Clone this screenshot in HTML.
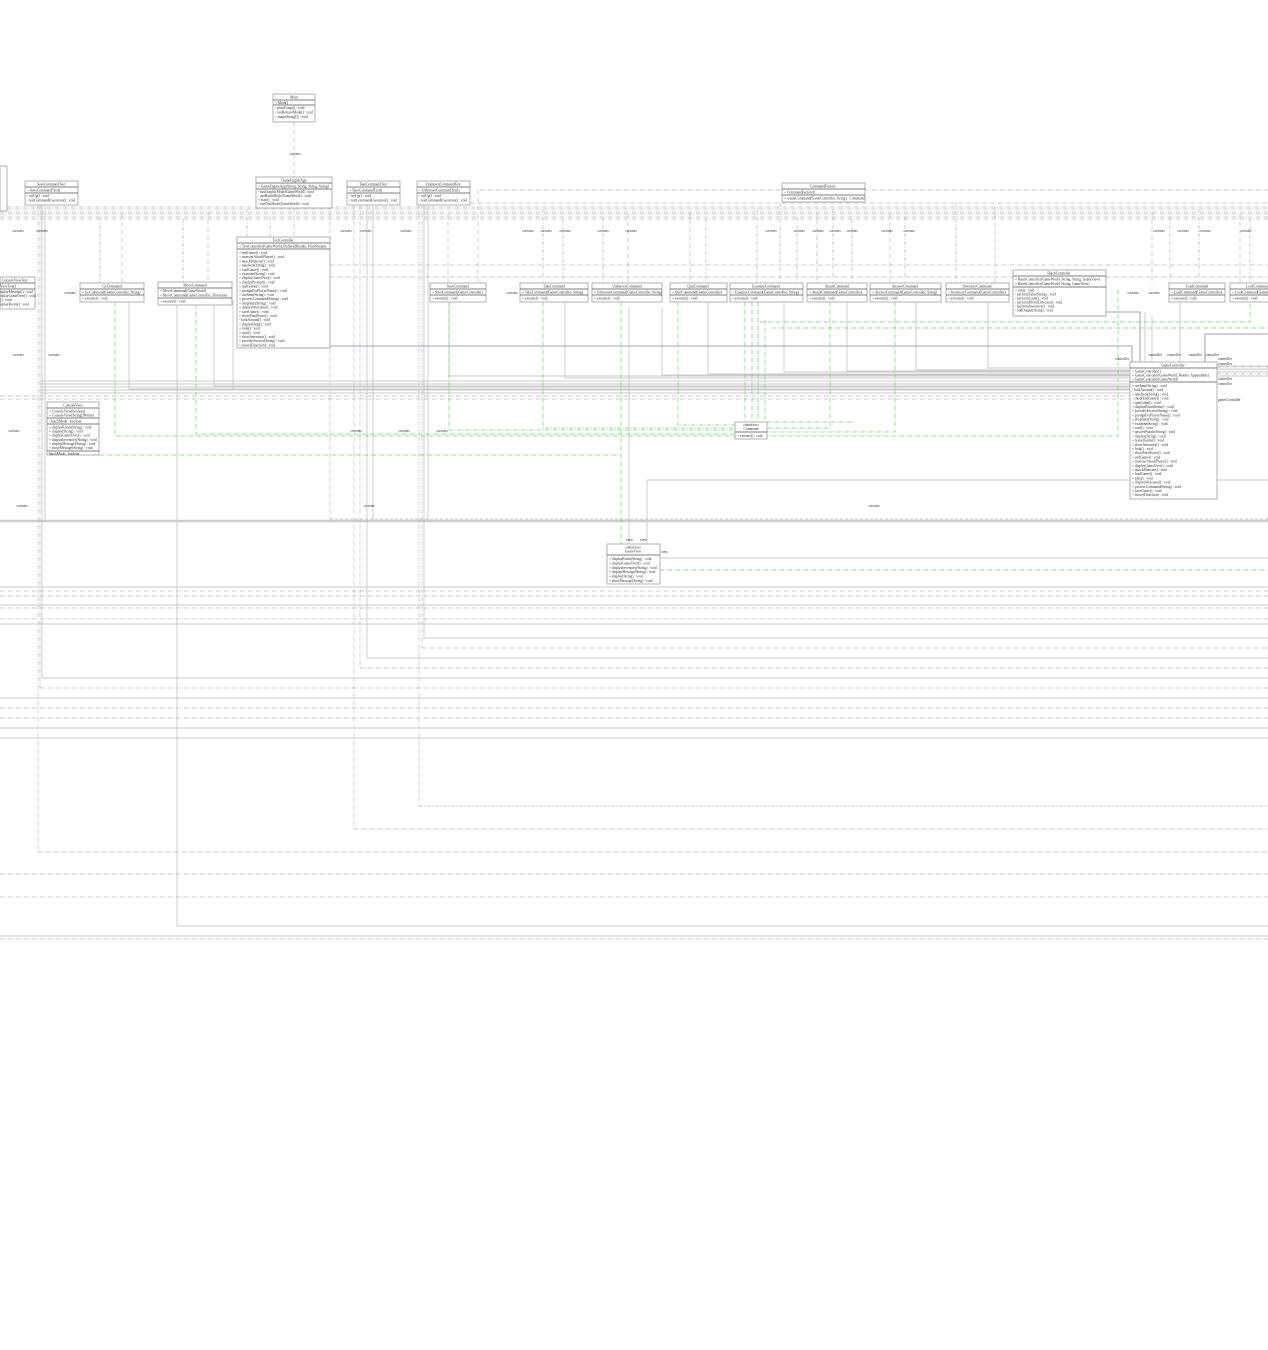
<!DOCTYPE html>
<html><head><meta charset="utf-8"><style>
html,body{margin:0;padding:0;background:#fff;}
svg{display:block;}
text{font-family:"Liberation Serif",serif;font-size:3.6px;fill:#333;}
.t{text-anchor:middle;}
.b{fill:#fff;stroke:#aaa;stroke-width:0.9;}
.s{stroke:#bbb;stroke-width:0.7;fill:none;}
.d{stroke:#bbb;stroke-width:0.7;fill:none;stroke-dasharray:4 1.5 1 1.5;}
.g{stroke:#7c7;stroke-width:0.7;fill:none;stroke-dasharray:4 1.5 1 1.5;}
.u{stroke:#88a;stroke-width:0.8;fill:none;}
.k{stroke:#555;stroke-width:0.7;fill:none;}
</style></head><body>
<svg width="1268" height="1350" viewBox="0 0 1268 1350" xmlns="http://www.w3.org/2000/svg">
<!-- long horizontal connectors upper -->
<g>
<path class="d" d="M7 207H1268M7 209H1268M0 212H1268M0 214H1268M0 217H1268M0 219H1268"/>
<path class="d" d="M330 265H1268M330 277H1268"/>
<path class="d" d="M470 203H1268M480 190H1268"/>
<path class="s" d="M40 381H1130M40 384H1130M40 387H1130M40 390H1130M40 393H1130"/>
<path class="d" d="M0 396H1130M0 399H1130"/>
<path class="s" d="M1217 366H1268M1217 369H1268M1217 372H1268M1217 376H1268"/>
<path class="d" d="M1217 367H1268M1217 374H1268"/>
<!-- band -->
<path stroke="#ccc" stroke-width="2.5" d="M0 521H1268"/>
<path stroke="#bbb" stroke-width="0.8" stroke-dasharray="3 2" d="M330 519H1268"/>
<!-- lower lines -->
<path class="s" d="M0 587H1268M0 605H1268M0 624H1268M424 638H1268M367 658H1268M42 678H1268M0 698H1268M0 728H1268M0 738H1268M177 926H1268M0 936H1268"/>
<path class="d" d="M0 591H1268M0 596H1268M0 608H1268M0 619H1268M422 648H1268M360 668H1268M40 688H1268M0 708H1268M0 718H1268M419 806H1268M354 829H1268M38 852H1268M0 874H1268M0 897H1268M0 939H1268"/>
<!-- verticals -->
<path class="d" d="M38 205V852M40 205V688M354 205V829M360 205V668M419 205V806M422 205V648M330 205V522"/>
<path class="s" d="M42 205V678M45 205V522M177 304V926M367 205V658M373 205V520M424 205V638M428 205V520"/>
<!-- Main -> GameEngineApp -->
<path class="d" d="M294 122V177"/><text x="295" y="155" class="t">«create»</text>
<path class="d" d="M294 208V237"/>
<!-- drops to commands -->
<path class="d" d="M100 217V283M122 214V283M183 219V282M208 212V282M448 214V283M478 190V283M543 209V283M563 219V283M603 217V283M628 214V283M690 212V283M706 219V283M757 209V283M780 203V283M797 217V283M817 212V283M833 209V283M852 219V283M890 214V283M905 217V283M956 203V283M995 207V283M1152 212V283M1170 217V283M1199 209V283M1240 214V283M1250 219V283"/>
<path class="d" d="M247 209V237M270 217V237"/>
<!-- labels create -->
<g>
<text x="12" y="232">«create»</text><text x="36" y="232">«create»</text><text x="340" y="232">«create»</text><text x="360" y="232">«create»</text><text x="400" y="232">«create»</text>
<text x="522" y="232">«create»</text><text x="540" y="232">«create»</text><text x="559" y="232">«create»</text><text x="597" y="232">«create»</text><text x="625" y="232">«create»</text><text x="765" y="232">«create»</text><text x="793" y="232">«create»</text><text x="812" y="232">«create»</text><text x="829" y="232">«create»</text><text x="846" y="232">«create»</text><text x="881" y="232">«create»</text><text x="903" y="232">«create»</text><text x="1153" y="232">«create»</text><text x="1177" y="232">«create»</text><text x="1199" y="232">«create»</text><text x="1240" y="232">«create»</text>
<text x="64" y="294">«create»</text><text x="506" y="294">«create»</text><text x="12" y="356">«create»</text><text x="48" y="356">«create»</text>
<text x="8" y="432">«create»</text><text x="350" y="432">«create»</text><text x="398" y="432">«create»</text><text x="436" y="432">«create»</text>
<text x="16" y="507">«create»</text><text x="363" y="507">«create»</text><text x="868" y="507">«create»</text>
<text x="1127" y="294">«create»</text><text x="1148" y="294">«create»</text>
</g>
<!-- solid lines commands -> GameController -->
<path class="s" d="M129 302V389H1130M214 304V386H1130M449 302V376H1130M565 302V378H1130M662 308V375H1130M708 302V374H1130M784 302V372H1130M847 302V371H1130M916 302V370H1130M988 302V368H1130M1145 312V362M1180 302V362M1152 316V362"/>
<path class="s" d="M233 300V390"/>
<!-- blue -->
<path class="u" d="M330 346H1132V362M1106 312H1140V362M1205 334H1268M1205 334V362"/>
<!-- green to Command -->
<path class="g" d="M115 302V436H735M196 304V434H735M449 302V430H735M543 302V428H735M678 302V425H735M745 302V422M752 302V422M758 302V422M765 320V422H855M830 302V428H767M895 302V432H767M1118 290V436H767M760 322H1250V290M772 328H1268"/>
<path class="g" d="M621 302V544M100 455H620"/>
<path class="g" d="M660 570H1268"/>
<path class="s" d="M647 480H1130M1217 480H1268M660 558H1268M647 480V544M629 308V544"/>
</g>
<!-- boxes -->
<g>
<rect class="b" x="273" y="94" width="42" height="28"/><text x="294" y="98.5" class="t">Main</text><path class="k" d="M273 100H315M273 105H315"/><text x="275" y="104">+ Main()</text><text x="275" y="109">- printUsage() : void</text><text x="275" y="113.5">- runRestoreMode() : void</text><text x="275" y="118">+ main(String[]) : void</text>

<rect class="b" x="256" y="177" width="76" height="31"/><text x="294" y="181.5" class="t">GameEngineApp</text><path class="k" d="M256 183H332M256 189H332"/><text x="258" y="187.5">+ GameEngineApp(String, String, String, String)</text><text x="258" y="193">- runGraphicMode(GameWorld) : void</text><text x="258" y="197">- runBatchMode(GameWorld) : void</text><text x="258" y="201">+ start() : void</text><text x="258" y="205">- runTextMode(GameWorld) : void</text>

<rect class="b" x="25" y="181" width="53" height="24"/><text x="51" y="185.5" class="t">SaveCommandTest</text><path class="k" d="M25 187H78M25 193H78"/><text x="27" y="191.5">+ SaveCommandTest()</text><text x="27" y="197">- setUp() : void</text><text x="27" y="201.5">- testCommandExecution() : void</text>
<rect class="b" x="347" y="181" width="53" height="24"/><text x="373" y="185.5" class="t">TakeCommandTest</text><path class="k" d="M347 187H400M347 193H400"/><text x="349" y="191.5">+ TakeCommandTest()</text><text x="349" y="197">- setUp() : void</text><text x="349" y="201.5">- testCommandExecution() : void</text>
<rect class="b" x="417" y="181" width="53" height="24"/><text x="443" y="185.5" class="t">UnknownCommandTest</text><path class="k" d="M417 187H470M417 193H470"/><text x="419" y="191.5">+ UnknownCommandTest()</text><text x="419" y="197">- setUp() : void</text><text x="419" y="201.5">- testCommandExecution() : void</text>

<rect class="b" x="782" y="183" width="83" height="19"/><text x="823" y="187.5" class="t">CommandFactory</text><path class="k" d="M782 189H865M782 195H865"/><text x="784" y="193.5">+ CommandFactory()</text><text x="784" y="199.5">+ createCommand(GameController, String) : Command</text>

<rect class="b" x="0" y="166" width="7" height="45"/>

<rect class="b" x="237" y="237" width="93" height="111"/><text x="283" y="241.5" class="t">TextController</text><path class="k" d="M237 243H330M237 249H330"/><text x="239" y="247.5">+ TextController(GameWorld, BufferedReader, PrintStream)</text>
<text x="239" y="254">+ endGame() : void</text><text x="239" y="258.2">+ monsterAttackPlayer() : void</text><text x="239" y="262.4">+ attackMonster() : void</text><text x="239" y="266.6">+ takeItem(String) : void</text><text x="239" y="270.8">+ loadGame() : void</text><text x="239" y="275">+ examine(String) : void</text><text x="239" y="279.2">+ displayGameOver() : void</text><text x="239" y="283.4">+ displayPrompt() : void</text><text x="239" y="287.6">+ quitGame() : void</text><text x="239" y="291.8">+ promptForPlayerName() : void</text><text x="239" y="296">+ useItem(String) : void</text><text x="239" y="300.2">+ processCommand(String) : void</text><text x="239" y="304.4">+ dropItem(String) : void</text><text x="239" y="308.6">+ displayWelcome() : void</text><text x="239" y="312.8">+ saveGame() : void</text><text x="239" y="317">+ showFinalScore() : void</text><text x="239" y="321.2">- lookAround() : void</text><text x="239" y="325.4">+ displayHelp() : void</text><text x="239" y="329.6">+ look() : void</text><text x="239" y="333.8">+ start() : void</text><text x="239" y="338">+ showInventory() : void</text><text x="239" y="342.2">+ provideAnswer(String) : void</text><text x="239" y="346.4">+ move(Direction) : void</text>

<rect class="b" x="0" y="277" width="35" height="32"/><text x="2" y="281.5">ConsoleViewTest</text><path class="k" d="M0 283H35M0 289H35"/><text x="0" y="287.5">ViewTest()</text><text x="0" y="293">isplayMessage() : void</text><text x="0" y="297">isplayGameOver() : void</text><text x="0" y="301">() : void</text><text x="0" y="305.5">isplayRoom() : void</text>

<rect class="b" x="80" y="283" width="64" height="19"/><text x="112" y="287.5" class="t">GoCommand</text><path class="k" d="M80 289H144M80 295H144"/><text x="82" y="293.5">+ GoCommand(GameController, String)</text><text x="82" y="299.5">+ execute() : void</text>
<rect class="b" x="158" y="282" width="74" height="23"/><text x="195" y="286.5" class="t">MoveCommand</text><path class="k" d="M158 288H232M158 298H232"/><text x="160" y="292">+ MoveCommand(GameWorld)</text><text x="160" y="296.3">+ MoveCommand(GameController, Direction)</text><text x="160" y="302.5">+ execute() : void</text>
<rect class="b" x="430" y="283" width="56" height="19"/><text x="458" y="287.5" class="t">SaveCommand</text><path class="k" d="M430 289H486M430 295H486"/><text x="432" y="293.5">+ SaveCommand(GameController)</text><text x="432" y="299.5">+ execute() : void</text>
<rect class="b" x="520" y="283" width="68" height="19"/><text x="554" y="287.5" class="t">TakeCommand</text><path class="k" d="M520 289H588M520 295H588"/><text x="522" y="293.5">+ TakeCommand(GameController, String)</text><text x="522" y="299.5">+ execute() : void</text>
<rect class="b" x="592" y="283" width="70" height="19"/><text x="627" y="287.5" class="t">UnknownCommand</text><path class="k" d="M592 289H662M592 295H662"/><text x="594" y="293.5">+ UnknownCommand(GameController, String)</text><text x="594" y="299.5">+ execute() : void</text>
<rect class="b" x="670" y="283" width="57" height="19"/><text x="698" y="287.5" class="t">QuitCommand</text><path class="k" d="M670 289H727M670 295H727"/><text x="672" y="293.5">+ QuitCommand(GameController)</text><text x="672" y="299.5">+ execute() : void</text>
<rect class="b" x="730" y="283" width="73" height="19"/><text x="766" y="287.5" class="t">ExamineCommand</text><path class="k" d="M730 289H803M730 295H803"/><text x="732" y="293.5">+ ExamineCommand(GameController, String)</text><text x="732" y="299.5">+ execute() : void</text>
<rect class="b" x="807" y="283" width="60" height="19"/><text x="837" y="287.5" class="t">AttackCommand</text><path class="k" d="M807 289H867M807 295H867"/><text x="809" y="293.5">+ AttackCommand(GameController)</text><text x="809" y="299.5">+ execute() : void</text>
<rect class="b" x="870" y="283" width="71" height="19"/><text x="905" y="287.5" class="t">AnswerCommand</text><path class="k" d="M870 289H941M870 295H941"/><text x="872" y="293.5">+ AnswerCommand(GameController, String)</text><text x="872" y="299.5">+ execute() : void</text>
<rect class="b" x="946" y="283" width="63" height="19"/><text x="977" y="287.5" class="t">InventoryCommand</text><path class="k" d="M946 289H1009M946 295H1009"/><text x="948" y="293.5">+ InventoryCommand(GameController)</text><text x="948" y="299.5">+ execute() : void</text>
<rect class="b" x="1013" y="270" width="93" height="46"/><text x="1059" y="274.5" class="t">BatchController</text><path class="k" d="M1013 276H1106M1013 287H1106"/><text x="1015" y="280.5">+ BatchController(GameWorld, String, String, GameView)</text><text x="1015" y="285">+ BatchController(GameWorld, String, GameView)</text><text x="1015" y="291.5">+ run() : void</text><text x="1015" y="295.5">- performTake(String) : void</text><text x="1015" y="299.5">- performLook() : void</text><text x="1015" y="303.5">- performMove(Direction) : void</text><text x="1015" y="307.5">- performInventory() : void</text><text x="1015" y="311.5">- addOutput(String) : void</text>
<rect class="b" x="1169" y="283" width="56" height="19"/><text x="1197" y="287.5" class="t">LoadCommand</text><path class="k" d="M1169 289H1225M1169 295H1225"/><text x="1171" y="293.5">+ LoadCommand(GameController)</text><text x="1171" y="299.5">+ execute() : void</text>
<rect class="b" x="1230" y="283" width="45" height="19"/><text x="1246" y="287.5">LookCommand</text><path class="k" d="M1230 289H1275M1230 295H1275"/><text x="1232" y="293.5">+ LookCommand(GameController</text><text x="1232" y="299.5">+ execute() : void</text>

<rect class="b" x="47" y="402" width="52" height="53"/><text x="73" y="406.5" class="t">ConsoleView</text><path class="k" d="M47 408H99M47 418H99M47 424H99M47 451H99"/><text x="49" y="412.5">+ ConsoleView(boolean)</text><text x="49" y="416.5">+ ConsoleView(String[]Writer)</text><text x="49" y="422.5">- batchMode : boolean</text><text x="49" y="428.5">+ displayRoom(String) : void</text><text x="49" y="432.6">+ display(String) : void</text><text x="49" y="436.7">+ displayGameOver() : void</text><text x="49" y="440.8">+ displayInventory(String) : void</text><text x="49" y="444.9">+ displayMessage(String) : void</text><text x="49" y="449">+ showMessage(String) : void</text><text x="49" y="455">batchMode : boolean</text>

<rect class="b" x="735" y="422" width="32" height="17"/><text x="751" y="426" class="t">«interface»</text><text x="751" y="430" class="t">Command</text><path class="k" d="M735 432H767"/><text x="737" y="437">+ execute() : void</text>

<rect class="b" x="1130" y="362" width="87" height="137"/><text x="1173" y="366.5" class="t">GameController</text><path class="k" d="M1130 368H1217M1130 382H1217"/><text x="1132" y="372.5">+ GameController()</text><text x="1132" y="376.5">+ GameController(GameWorld, Reader, Appendable)</text><text x="1132" y="380.5">+ GameController(GameWorld)</text>
<text x="1132" y="387">+ useItem(String) : void</text><text x="1132" y="391.2">- lookAround() : void</text><text x="1132" y="395.4">+ takeItem(String) : void</text><text x="1132" y="399.6">- checkEndGame() : void</text><text x="1132" y="403.8">+ quitGame() : void</text><text x="1132" y="408">+ displayRoomItems() : void</text><text x="1132" y="412.2">+ provideAnswer(String) : void</text><text x="1132" y="416.4">+ promptForPlayerName() : void</text><text x="1132" y="420.6">+ dropItem(String) : void</text><text x="1132" y="424.8">+ examine(String) : void</text><text x="1132" y="429">+ start() : void</text><text x="1132" y="433.2">+ answerPuzzle(String) : void</text><text x="1132" y="437.4">+ display(String) : void</text><text x="1132" y="441.6">+ restartGame() : void</text><text x="1132" y="445.8">+ showInventory() : void</text><text x="1132" y="450">+ look() : void</text><text x="1132" y="454.2">+ showFinalScore() : void</text><text x="1132" y="458.4">+ endGame() : void</text><text x="1132" y="462.6">+ monsterAttackPlayer() : void</text><text x="1132" y="466.8">+ displayGameOver() : void</text><text x="1132" y="471">+ attackMonster() : void</text><text x="1132" y="475.2">+ loadGame() : void</text><text x="1132" y="479.4">+ play() : void</text><text x="1132" y="483.6">+ displayWelcome() : void</text><text x="1132" y="487.8">+ processCommand(String) : void</text><text x="1132" y="492">+ saveGame() : void</text><text x="1132" y="496.2">+ move(Direction) : void</text>
<text x="1115" y="360">controller</text><text x="1148" y="356">controller</text><text x="1167" y="356">controller</text><text x="1188" y="356">controller</text><text x="1205" y="356">controller</text><text x="1218" y="360">controller</text><text x="1218" y="365">controller</text><text x="1218" y="380">controller</text><text x="1218" y="385">controller</text><text x="1218" y="401">gameController</text>

<rect class="b" x="607" y="544" width="53" height="40"/><text x="633" y="548.5" class="t">«interface»</text><text x="633" y="552.5" class="t">GameView</text><path class="k" d="M607 555H660"/><text x="609" y="560">+ displayRoom(String) : void</text><text x="609" y="564.4">+ displayGameOver() : void</text><text x="609" y="568.8">+ displayInventory(String) : void</text><text x="609" y="573.2">+ displayMessage(String) : void</text><text x="609" y="577.6">+ display(String) : void</text><text x="609" y="582">+ showMessage(String) : void</text>
<text x="626" y="541">view</text><text x="640" y="541">view</text><text x="661" y="553">view</text>
</g>
</svg>
</body></html>
